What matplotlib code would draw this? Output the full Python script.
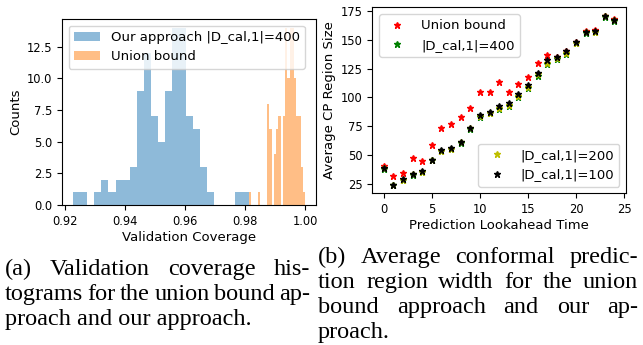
import numpy as np
import matplotlib
matplotlib.use("Agg")
import matplotlib.pyplot as plt

# ---------------- data ----------------
# (a) histogram of validation coverage (25 bins each)
ours_range = (0.92278, 0.98122)
ours_counts = [1, 1, 0, 1, 2, 1, 2, 2, 3, 9, 12, 7, 5, 9, 14, 14, 7, 6, 3, 1, 0, 0, 0, 1, 1]
union_range = (0.98125, 1.0)
union_counts = [1, 0, 0, 0, 1, 0, 0, 0, 8, 6, 0, 4, 6, 7, 0, 7, 14, 10, 14, 14, 10, 7, 7, 3, 1]

# (b) average CP region size vs lookahead time
lookahead = list(range(25))
union_bound = [40.4, 31.4, 34.0, 47.4, 45.0, 59.0, 73.0, 77.0, 83.0, 91.0, 105.0, 104.4,
               113.0, 104.4, 112.0, 118.0, 130.0, 136.5, 135.0, 140.0, 148.0, 157.5, 158.5,
               171.0, 168.5]
cal400 = [38.0, 24.0, 28.2, 32.5, 35.0, 45.3, 53.0, 55.0, 60.8, 72.8, 83.0, 86.3, 90.3,
          92.8, 100.3, 107.8, 119.0, 129.0, 133.0, 138.0, 147.0, 156.0, 156.8, 170.0, 166.8]
cal200 = [38.3, 24.0, 28.5, 33.0, 35.5, 45.6, 53.5, 55.5, 61.2, 73.2, 83.6, 86.6, 91.0,
          93.6, 101.0, 109.0, 120.0, 130.0, 134.0, 139.0, 147.5, 156.5, 157.0, 170.5, 167.2]
cal100 = [38.7, 24.1, 28.8, 33.4, 36.0, 45.9, 54.0, 56.1, 61.6, 73.5, 84.6, 86.9, 92.7,
          95.3, 102.9, 110.8, 121.5, 132.3, 135.2, 140.4, 148.0, 157.3, 157.6, 170.9, 167.7]

caption_a = ["(a) Validation coverage his-",
             "tograms for the union bound ap-",
             "proach and our approach."]
caption_b = ["(b) Average conformal predic-",
             "tion region width for the union",
             "bound approach and our ap-",
             "proach."]

# ---------------- figure ----------------
W, H = 643, 345
DPI = 100
fig = plt.figure(figsize=(W / DPI, H / DPI), dpi=DPI)

TICK = 8.3
LAB = 9.5
LEG = 9.5

def px_axes(x0, y0, x1, y1):
    return fig.add_axes([x0 / W, 1 - y1 / H, (x1 - x0) / W, (y1 - y0) / H])

# (a) histogram
ax1 = px_axes(62, 19, 316, 205)
e_ours = np.linspace(ours_range[0], ours_range[1], len(ours_counts) + 1)
e_union = np.linspace(union_range[0], union_range[1], len(union_counts) + 1)
ax1.hist(e_ours[:-1], bins=e_ours, weights=ours_counts, color="C0", alpha=0.5,
         label="Our approach |D_cal,1|=400")
ax1.hist(e_union[:-1], bins=e_union, weights=union_counts, color="C1", alpha=0.5,
         label="Union bound")
ax1.set_xlim(0.919, 1.0035)
ax1.set_ylim(0, 14.7)
ax1.set_xticks([0.92, 0.94, 0.96, 0.98, 1.00])
ax1.set_yticks([0, 2.5, 5, 7.5, 10, 12.5])
ax1.set_yticklabels(["0.0", "2.5", "5.0", "7.5", "10.0", "12.5"])
ax1.set_xticklabels(["0.92", "0.94", "0.96", "0.98", "1.00"])
ax1.tick_params(labelsize=TICK)
ax1.set_xlabel("Validation Coverage", fontsize=LAB, labelpad=2)
ax1.set_ylabel("Counts", fontsize=LAB, labelpad=3)
ax1.legend(loc="upper left", fontsize=LEG)

# (b) scatter
ax2 = px_axes(372.3, 7.3, 626, 193.3)
h_u, = ax2.plot(lookahead, union_bound, "*", color="r", ms=5, label="Union bound")
h_4, = ax2.plot(lookahead, cal400, "*", color="g", ms=5, label="|D_cal,1|=400")
h_2, = ax2.plot(lookahead, cal200, "*", color="y", ms=5, label="|D_cal,1|=200")
h_1, = ax2.plot(lookahead, cal100, "*", color="k", ms=5, label="|D_cal,1|=100")
ax2.set_xticks([0, 5, 10, 15, 20, 25])
ax2.set_yticks([25, 50, 75, 100, 125, 150, 175])
ax2.tick_params(labelsize=TICK)
ax2.set_xlabel("Prediction Lookahead Time", fontsize=LAB, labelpad=2)
ax2.set_ylabel("Average CP Region Size", fontsize=LAB, labelpad=3)
leg1 = ax2.legend(handles=[h_u, h_4], loc="upper left", fontsize=LEG)
ax2.add_artist(leg1)
ax2.legend(handles=[h_2, h_1], loc="lower right", fontsize=LEG)

# ---------------- captions (justified) ----------------
CAP_FS = 17.5
CAP_FONT = "Liberation Serif"
renderer = fig.canvas.get_renderer()

def place_line(text, x0, x1, ybase, justify):
    if not justify:
        fig.text(x0 / W, 1 - ybase / H, text, fontsize=CAP_FS, family=CAP_FONT,
                 ha="left", va="baseline")
        return
    words = text.split(" ")
    objs = [fig.text(0, 1 - ybase / H, w, fontsize=CAP_FS, family=CAP_FONT,
                     ha="left", va="baseline") for w in words]
    widths = [o.get_window_extent(renderer).width for o in objs]
    gap = ((x1 - x0) - sum(widths)) / max(len(words) - 1, 1)
    x = x0
    for o, w in zip(objs, widths):
        o.set_x(x / W)
        x += w + gap

def place_caption(lines, x0, x1, y0, step):
    for i, line in enumerate(lines):
        place_line(line, x0, x1, y0 + i * step, justify=(i < len(lines) - 1))

place_caption(caption_a, 5, 310, 275, 25)
place_caption(caption_b, 318, 638, 263, 25)

fig.savefig("out.png", dpi=DPI)
